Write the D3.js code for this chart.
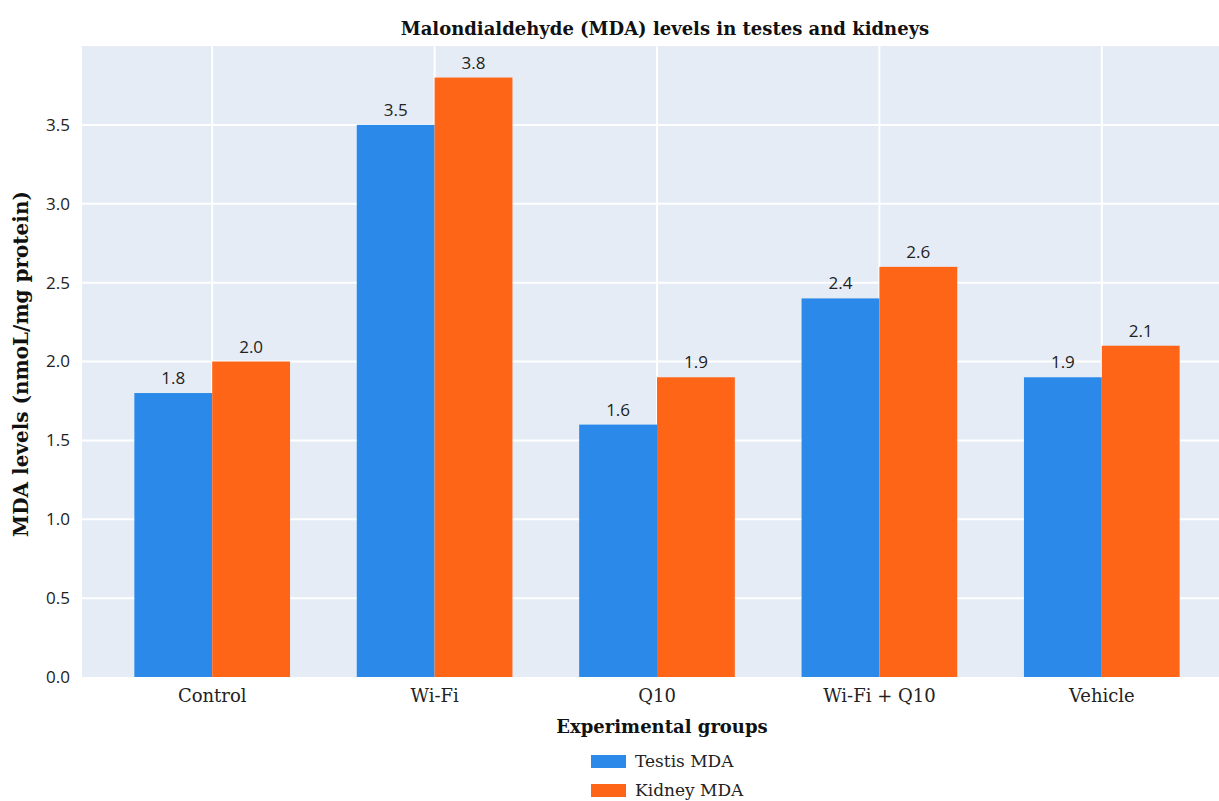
<!DOCTYPE html>
<html><head><meta charset="utf-8">
<script src="https://cdn.jsdelivr.net/npm/d3@7"></script>
<style>body{margin:0;background:#fff}svg{display:block}</style>
</head><body>
<script>
const categories = ["Control", "Wi-Fi", "Q10", "Wi-Fi + Q10", "Vehicle"];
const seriesNames = ["Testis MDA", "Kidney MDA"];
const testis = [1.8, 3.5, 1.6, 2.4, 1.9];
const kidney = [2.0, 3.8, 1.9, 2.6, 2.1];
const yTicks = [0, 0.5, 1.0, 1.5, 2.0, 2.5, 3.0, 3.5];
const colors = ["#2b89e9", "#ff6516"];

const W = 1219, H = 801;
const plot = {left: 82, right: 1219, top: 46, bottom: 677};
const svg = d3.select("body").append("svg").attr("width", W).attr("height", H);

const x = d3.scaleBand().domain(categories).range([101, 1213]).paddingInner(0.3).paddingOuter(0.15);
const xs = d3.scaleBand().domain(seriesNames).range([0, x.bandwidth()]);
const y = d3.scaleLinear().domain([0, 4.0]).range([plot.bottom, plot.top]);

svg.append("rect").attr("x", plot.left).attr("y", plot.top)
  .attr("width", plot.right - plot.left).attr("height", plot.bottom - plot.top).attr("fill", "#e5ecf6");

// grid
svg.append("g").selectAll("line").data(yTicks.filter(d => d > 0)).join("line")
  .attr("x1", plot.left).attr("x2", plot.right)
  .attr("y1", d => y(d)).attr("y2", d => y(d)).attr("stroke", "#fff").attr("stroke-width", 2);
svg.append("g").selectAll("line").data(categories).join("line")
  .attr("x1", d => x(d) + x.bandwidth() / 2).attr("x2", d => x(d) + x.bandwidth() / 2)
  .attr("y1", plot.top).attr("y2", plot.bottom).attr("stroke", "#fff").attr("stroke-width", 2);

const data = [testis, kidney];
data.forEach((vals, si) => {
  const g = svg.append("g");
  g.selectAll("rect").data(vals).join("rect")
    .attr("x", (d, i) => x(categories[i]) + xs(seriesNames[si]))
    .attr("width", xs.bandwidth())
    .attr("y", d => y(d)).attr("height", d => y(0) - y(d))
    .attr("fill", colors[si]);
  g.selectAll("text").data(vals).join("text")
    .attr("x", (d, i) => x(categories[i]) + xs(seriesNames[si]) + xs.bandwidth() / 2)
    .attr("y", d => y(d) - 9)
    .attr("text-anchor", "middle")
    .attr("font-family", "Open Sans, sans-serif").attr("font-size", 17).attr("fill", "#222")
    .text(d => d.toFixed(1));
});

// y axis
const yAxis = d3.axisLeft(y).tickValues(yTicks).tickFormat(d3.format(".1f")).tickSize(0).tickPadding(12);
const gy = svg.append("g").attr("transform", `translate(${plot.left},0)`).call(yAxis);
gy.select(".domain").remove();
gy.selectAll("text").attr("font-family", "Open Sans, sans-serif").attr("font-size", 17).attr("fill", "#222");

// x axis
const xAxis = d3.axisBottom(x).tickSize(0).tickPadding(12);
const gx = svg.append("g").attr("transform", `translate(0,${plot.bottom})`).call(xAxis);
gx.select(".domain").remove();
gx.selectAll("text").attr("font-family", "DejaVu Serif, serif").attr("font-size", 18).attr("fill", "#222");

// titles
svg.append("text").attr("x", 665).attr("y", 35).attr("text-anchor", "middle")
  .attr("font-family", "DejaVu Serif, serif").attr("font-weight", "bold").attr("font-size", 18).attr("fill", "#111")
  .text("Malondialdehyde (MDA) levels in testes and kidneys");
svg.append("text").attr("x", 662).attr("y", 733).attr("text-anchor", "middle")
  .attr("font-family", "DejaVu Serif, serif").attr("font-weight", "bold").attr("font-size", 18).attr("fill", "#111")
  .text("Experimental groups");
svg.append("text").attr("transform", "translate(28,364) rotate(-90)").attr("text-anchor", "middle")
  .attr("font-family", "DejaVu Serif, serif").attr("font-weight", "bold").attr("font-size", 20).attr("fill", "#111")
  .text("MDA levels (nmoL/mg protein)");

// legend
const lg = svg.append("g").attr("transform", "translate(591,755)");
seriesNames.forEach((n, i) => {
  lg.append("rect").attr("x", 0).attr("y", i * 29).attr("width", 35).attr("height", 13).attr("fill", colors[i]);
  lg.append("text").attr("x", 44).attr("y", i * 29 + 12).attr("font-family", "DejaVu Serif, serif")
    .attr("font-size", 17).attr("fill", "#222").text(n);
});
</script>
</body></html>
